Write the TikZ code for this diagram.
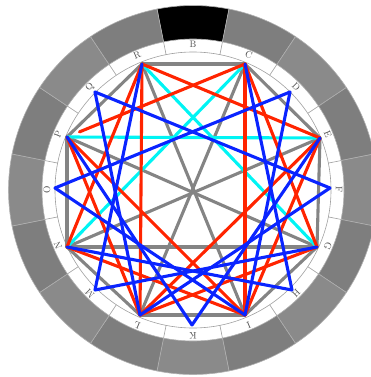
\documentclass[tikz,border=0pt]{standalone}
\usetikzlibrary{calc}
\definecolor{segA}{HTML}{7E7E7E}
\definecolor{segB}{HTML}{8A8A8A}
\definecolor{segline}{HTML}{B0B0B0}
\definecolor{lred}{HTML}{FF2400}
\definecolor{lblue}{HTML}{0A24FF}
\definecolor{lcyan}{HTML}{00F4F4}
\definecolor{lgrey}{HTML}{848484}
\definecolor{thin}{HTML}{A0A0A0}
\definecolor{txt}{HTML}{505050}
\begin{document}
\begin{tikzpicture}[x=1pt,y=1pt,
  chord/.style={line width=3.1pt, line cap=round},
  gline/.style={chord, draw=lgrey},
  rline/.style={chord, draw=lred},
  bline/.style={chord, draw=lblue},
  cline/.style={chord, draw=lcyan},
  seg/.style={draw=segline, line width=0.6pt},
  tick/.style={draw=thin, line width=0.6pt},
  lettr/.style={text=txt, font=\fontsize{9.5}{10}\selectfont, inner sep=0pt}
]
\useasboundingbox (0,0) rectangle (370,-377);
\begin{scope}[shift={(193,-190)}]
  \foreach \i/\col in {0/black,1/segA,2/segB,3/segA,4/segB,5/segA,6/segB,7/segA,8/segB,9/segA,10/segB,11/segA,12/segB,13/segA,14/segB,15/segA} {
    \pgfmathsetmacro\a{90-22.5*\i}
    \pgfmathsetmacro\aa{\a-11.25}
    \pgfmathsetmacro\ab{\a+11.25}
    \filldraw[seg, fill=\col] (\aa:184.5) arc[start angle=\aa, end angle=\ab, radius=184.5]
      -- (\ab:151) arc[start angle=\ab, end angle=\aa, radius=151] -- cycle;
    \draw[tick] (\aa:138) -- (\aa:151);
  }
  \draw[tick] (0,0) circle[radius=138];
  \foreach \i/\t in {0/B,1/C,2/D,3/E,4/F,5/G,6/H,7/I,8/K,9/L,10/M,11/N,12/O,13/P,14/Q,15/R} {
    \pgfmathsetmacro\a{90-22.5*\i}
    \pgfmathsetmacro\r{\a-90}
    \node[lettr, rotate=\r] (lab\t) at (\a:146) {\t};
  }
\end{scope}
% vertices
\coordinate (C) at (245,-64);
\coordinate (D) at (290,-92);
\coordinate (E) at (320,-138);
\coordinate (F) at (330,-188);
\coordinate (G) at (317,-247);
\coordinate (H) at (292,-290);
\coordinate (I) at (245,-315);
\coordinate (K) at (192,-325);
\coordinate (L) at (140,-315);
\coordinate (M) at (95,-290);
\coordinate (N) at (67,-247);
\coordinate (O) at (55,-188);
\coordinate (P) at (67,-137);
\coordinate (Q) at (95,-92);
\coordinate (R) at (142,-64);
\coordinate (Pend) at ($(P)!0.07!(C)$);
% grey
\foreach \u/\v in {R/C,C/E,E/G,G/I,I/L,L/N,N/P,P/R,R/I,C/L,P/G,E/N,N/G}
  \draw[gline] (\u) -- (\v);
% cyan
\foreach \u/\v in {P/E,R/G,C/N}
  \draw[cline] (\u) -- (\v);
% red
\foreach \u/\v in {R/E,C/Pend,R/L,C/I,R/N,C/G,P/I,E/L,P/L,E/I,N/I,G/L}
  \draw[rline] (\u) -- (\v);
% blue
\foreach \u/\v in {Q/F,Q/L,F/L,D/O,D/I,O/I,M/R,M/G,H/C,H/N,K/P,K/E}
  \draw[bline] (\u) -- (\v);
\end{tikzpicture}
\end{document}
